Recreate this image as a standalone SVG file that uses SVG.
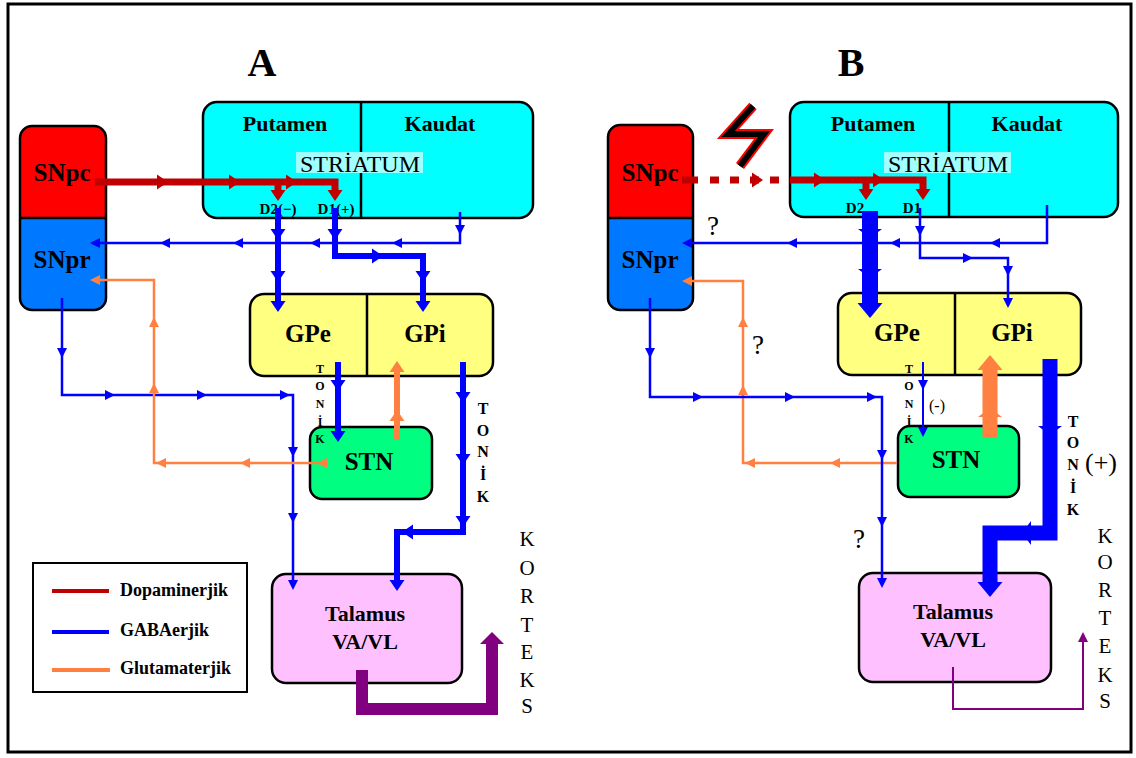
<svg xmlns="http://www.w3.org/2000/svg" width="1136" height="758" viewBox="0 0 1136 758">
<style>
text{font-family:"Liberation Serif","Times New Roman",serif;fill:#000}
.bd{font-weight:bold}
.mid{text-anchor:middle}
.nb{stroke:#000;stroke-width:2.5}
.ln{fill:none;stroke-linejoin:miter;stroke-linecap:butt}
.red{stroke:#c00000}
.blu{stroke:#0000ff}
.org{stroke:#ff8040}
.pur{stroke:#800080}
.fr{fill:#c00000}
.fb{fill:#0000ff}
.fo{fill:#ff8040}
.fp{fill:#800080}
.t1{stroke-width:2.5}
.t2{stroke-width:6}
.t3{stroke-width:15}
.k1{font-size:12px;font-weight:bold}
.k2{font-size:16px;font-weight:bold}
.k3{font-size:21px}
</style>
<defs>
<path id="at" d="M0,0 L-10,-5 L-10,5 Z"/>
<path id="am" d="M0,0 L-11,-7.5 L-11,7.5 Z"/>
<path id="ab" d="M0,0 L-15,-12.5 L-15,12.5 Z"/>
<path id="ax" d="M0,0 L-9,-12 L-9,12 Z"/>
<path id="ap" d="M0,0 L-12,-12 L-12,12 Z"/>
</defs>
<rect x="0" y="0" width="1136" height="758" fill="#fff"/>
<rect x="8" y="4" width="1123" height="748" fill="none" stroke="#000" stroke-width="3"/>
<text x="262" y="76" class="bd mid" font-size="40">A</text>
<text x="851" y="76" class="bd mid" font-size="40">B</text>

<!-- Panel A nodes -->
<g id="A-SN">
<path d="M20,218 V138 A12,12 0 0 1 32,126 H94 A12,12 0 0 1 106,138 V218 Z" fill="#ff0000"/>
<path d="M20,218 V298 A12,12 0 0 0 32,310 H94 A12,12 0 0 0 106,298 V218 Z" fill="#0078ff"/>
<rect x="20" y="126" width="86" height="184" rx="12" fill="none" class="nb"/>
<line x1="20" y1="218" x2="106" y2="218" class="nb"/>
<text x="62" y="181" class="bd mid" font-size="25">SNpc</text>
<text x="62" y="268" class="bd mid" font-size="25">SNpr</text>
</g>
<g id="A-Striatum">
<rect x="203" y="102" width="330" height="116" rx="14" fill="#00ffff" class="nb"/>
<line x1="361" y1="102" x2="361" y2="218" class="nb"/>
<text x="285" y="131" class="bd mid" font-size="22">Putamen</text>
<text x="440" y="131" class="bd mid" font-size="22">Kaudat</text>
<rect x="296" y="152" width="127" height="21" fill="#a0ffff"/>
<text x="360" y="172" class="mid" font-size="24">STRİATUM</text>
<text x="278" y="214" class="bd mid" font-size="15">D2(−)</text>
<text x="336" y="214" class="bd mid" font-size="15">D1(+)</text>
</g>
<g id="A-GP">
<rect x="250" y="294" width="243" height="82" rx="14" fill="#ffff80" class="nb"/>
<line x1="367" y1="294" x2="367" y2="376" class="nb"/>
<text x="308" y="342" class="bd mid" font-size="25">GPe</text>
<text x="425" y="342" class="bd mid" font-size="25">GPi</text>
</g>
<g id="A-STN">
<rect x="310" y="427" width="122" height="72" rx="12" fill="#00ff80" class="nb"/>
<text x="369" y="470" class="bd mid" font-size="25">STN</text>
</g>
<g id="A-Talamus">
<rect x="272" y="574" width="190" height="109" rx="14" fill="#ffc0ff" class="nb"/>
<text x="365" y="621" class="bd mid" font-size="22">Talamus</text>
<text x="365" y="649" class="bd mid" font-size="22">VA/VL</text>
</g>

<!-- Panel B nodes -->
<g id="B-SN">
<path d="M608,218 V137 A12,12 0 0 1 620,125 H681 A12,12 0 0 1 693,137 V218 Z" fill="#ff0000"/>
<path d="M608,218 V298 A12,12 0 0 0 620,310 H681 A12,12 0 0 0 693,298 V218 Z" fill="#0078ff"/>
<rect x="608" y="125" width="85" height="185" rx="12" fill="none" class="nb"/>
<line x1="608" y1="218" x2="693" y2="218" class="nb"/>
<text x="650" y="181" class="bd mid" font-size="25">SNpc</text>
<text x="650" y="268" class="bd mid" font-size="25">SNpr</text>
</g>
<g id="B-Striatum">
<rect x="790" y="102" width="328" height="115" rx="14" fill="#00ffff" class="nb"/>
<line x1="949" y1="102" x2="949" y2="217" class="nb"/>
<text x="873" y="131" class="bd mid" font-size="22">Putamen</text>
<text x="1027" y="131" class="bd mid" font-size="22">Kaudat</text>
<rect x="884" y="152" width="127" height="21" fill="#a0ffff"/>
<text x="948" y="172" class="mid" font-size="24">STRİATUM</text>
<text x="855" y="213" class="bd mid" font-size="15">D2</text>
<text x="912" y="213" class="bd mid" font-size="15">D1</text>
</g>
<g id="B-GP">
<rect x="838" y="293" width="243" height="82" rx="14" fill="#ffff80" class="nb"/>
<line x1="955" y1="293" x2="955" y2="375" class="nb"/>
<text x="897" y="341" class="bd mid" font-size="25">GPe</text>
<text x="1012" y="341" class="bd mid" font-size="25">GPi</text>
</g>
<g id="B-STN">
<rect x="898" y="426" width="121" height="71" rx="12" fill="#00ff80" class="nb"/>
<text x="956" y="468" class="bd mid" font-size="25">STN</text>
</g>
<g id="B-Talamus">
<rect x="859" y="573" width="192" height="109" rx="14" fill="#ffc0ff" class="nb"/>
<text x="953" y="619" class="bd mid" font-size="22">Talamus</text>
<text x="953" y="647" class="bd mid" font-size="22">VA/VL</text>
</g>

<!-- Connectors -->
<g id="connectors">
<!-- A red dopaminergic -->
<path d="M95,182 H335 V192 M278,182 V192" class="ln red" stroke-width="7"/>
<use href="#am" class="fr" transform="translate(168,182)"/>
<use href="#am" class="fr" transform="translate(240,182)"/>
<use href="#am" class="fr" transform="translate(297,182)"/>
<use href="#am" class="fr" transform="translate(278,201) rotate(90)"/>
<use href="#am" class="fr" transform="translate(335,201) rotate(90)"/>
<!-- A thick blue from D2/D1 -->
<path d="M278,208 V302 M335,208 V256 H423 V302" class="ln blu t2"/>
<use href="#am" class="fb" transform="translate(278,240) rotate(90)"/>
<use href="#am" class="fb" transform="translate(278,282) rotate(90)"/>
<use href="#am" class="fb" transform="translate(278,312) rotate(90)"/>
<use href="#am" class="fb" transform="translate(335,240) rotate(90)"/>
<use href="#am" class="fb" transform="translate(383,256)"/>
<use href="#am" class="fb" transform="translate(423,282) rotate(90)"/>
<use href="#am" class="fb" transform="translate(423,312) rotate(90)"/>
<!-- A thin blue Kaudat -> SNpr -->
<path d="M460,212 V243 H92" class="ln blu t1"/>
<use href="#at" class="fb" transform="translate(460,235) rotate(90)"/>
<use href="#at" class="fb" transform="translate(392,243) rotate(180)"/>
<use href="#at" class="fb" transform="translate(310,243) rotate(180)"/>
<use href="#at" class="fb" transform="translate(233,243) rotate(180)"/>
<use href="#at" class="fb" transform="translate(160,243) rotate(180)"/>
<use href="#at" class="fb" transform="translate(90,243) rotate(180)"/>
<!-- A thin blue SNpr -> Talamus -->
<path d="M62,298 V395 H293 V582" class="ln blu t1"/>
<use href="#at" class="fb" transform="translate(62,358) rotate(90)"/>
<use href="#at" class="fb" transform="translate(115,395)"/>
<use href="#at" class="fb" transform="translate(207,395)"/>
<use href="#at" class="fb" transform="translate(290,395)"/>
<use href="#at" class="fb" transform="translate(293,457) rotate(90)"/>
<use href="#at" class="fb" transform="translate(293,523) rotate(90)"/>
<use href="#at" class="fb" transform="translate(293,590) rotate(90)"/>
<!-- A thin orange STN -> SNpr -->
<path d="M326,463 H154 V280 H95" class="ln org t1"/>
<use href="#at" class="fo" transform="translate(317,463) rotate(180)"/>
<use href="#at" class="fo" transform="translate(240,463) rotate(180)"/>
<use href="#at" class="fo" transform="translate(156,463) rotate(180)"/>
<use href="#at" class="fo" transform="translate(154,383) rotate(-90)"/>
<use href="#at" class="fo" transform="translate(154,317) rotate(-90)"/>
<use href="#at" class="fo" transform="translate(90,280) rotate(180)"/>
<!-- A GPe -> STN -->
<path d="M338,362 V432" class="ln blu t2"/>
<use href="#am" class="fb" transform="translate(338,391) rotate(90)"/>
<use href="#am" class="fb" transform="translate(338,442) rotate(90)"/>
<!-- A STN -> GPi -->
<path d="M397,440 V370" class="ln org t2"/>
<use href="#am" class="fo" transform="translate(397,410) rotate(-90)"/>
<use href="#am" class="fo" transform="translate(397,361) rotate(-90)"/>
<!-- A GPi -> Talamus -->
<path d="M463,362 V532 H397 V581" class="ln blu t2"/>
<use href="#am" class="fb" transform="translate(463,403) rotate(90)"/>
<use href="#am" class="fb" transform="translate(463,465) rotate(90)"/>
<use href="#am" class="fb" transform="translate(463,527) rotate(90)"/>
<use href="#am" class="fb" transform="translate(402,532) rotate(180)"/>
<use href="#am" class="fb" transform="translate(397,591) rotate(90)"/>
<!-- A Talamus -> Korteks -->
<path d="M362,670 V709 H492 V643" class="ln pur" stroke-width="12"/>
<use href="#ap" class="fp" transform="translate(492,632) rotate(-90)"/>

<!-- B red dopaminergic (interrupted) -->
<path d="M682,180 H698" class="ln red" stroke-width="7"/>
<path d="M710,180 H790" class="ln red" stroke-width="7" stroke-dasharray="9 11"/>
<path d="M790,180 H923 V192 M866,180 V192" class="ln red" stroke-width="7"/>
<use href="#am" class="fr" transform="translate(763,180)"/>
<use href="#am" class="fr" transform="translate(825,180)"/>
<use href="#am" class="fr" transform="translate(884,180)"/>
<use href="#am" class="fr" transform="translate(866,200) rotate(90)"/>
<use href="#am" class="fr" transform="translate(923,200) rotate(90)"/>
<!-- lightning -->
<polyline points="753,106 728,134 764,134 740,166" fill="none" stroke="#ff0000" stroke-width="10" stroke-linejoin="miter"/>
<polyline points="753,106 728,134 764,134 740,166" fill="none" stroke="#000" stroke-width="6" stroke-linejoin="miter"/>
<!-- B thick D2 -> GPe -->
<path d="M870,211 V304" class="ln blu" stroke-width="16"/>
<use href="#ax" class="fb" transform="translate(870,238) rotate(90)"/>
<use href="#ax" class="fb" transform="translate(870,278) rotate(90)"/>
<use href="#ab" class="fb" transform="translate(870,318) rotate(90)"/>
<!-- B thin D1 -> GPi -->
<path d="M920,208 V258 H1008 V305" class="ln blu t1"/>
<use href="#at" class="fb" transform="translate(920,236) rotate(90)"/>
<use href="#at" class="fb" transform="translate(973,258)"/>
<use href="#at" class="fb" transform="translate(1008,276) rotate(90)"/>
<use href="#at" class="fb" transform="translate(1008,308) rotate(90)"/>
<!-- B thin Kaudat -> SNpr -->
<path d="M1047,205 V243 H686" class="ln blu t1"/>
<use href="#at" class="fb" transform="translate(990,243) rotate(180)"/>
<use href="#at" class="fb" transform="translate(890,243) rotate(180)"/>
<use href="#at" class="fb" transform="translate(787,243) rotate(180)"/>
<use href="#at" class="fb" transform="translate(682,243) rotate(180)"/>
<!-- B thin orange STN -> SNpr -->
<path d="M897,463 H743 V281 H686" class="ln org t1"/>
<use href="#at" class="fo" transform="translate(830,463) rotate(180)"/>
<use href="#at" class="fo" transform="translate(745,463) rotate(180)"/>
<use href="#at" class="fo" transform="translate(743,385) rotate(-90)"/>
<use href="#at" class="fo" transform="translate(743,317) rotate(-90)"/>
<use href="#at" class="fo" transform="translate(682,281) rotate(180)"/>
<!-- B thin SNpr -> Talamus -->
<path d="M650,298 V397 H882 V582" class="ln blu t1"/>
<use href="#at" class="fb" transform="translate(650,358) rotate(90)"/>
<use href="#at" class="fb" transform="translate(703,397)"/>
<use href="#at" class="fb" transform="translate(795,397)"/>
<use href="#at" class="fb" transform="translate(877,397)"/>
<use href="#at" class="fb" transform="translate(882,460) rotate(90)"/>
<use href="#at" class="fb" transform="translate(882,527) rotate(90)"/>
<use href="#at" class="fb" transform="translate(882,588) rotate(90)"/>
<!-- B thin GPe -> STN -->
<path d="M923,362 V430" class="ln blu" stroke-width="2"/>
<use href="#at" class="fb" transform="translate(923,390) rotate(90)"/>
<use href="#at" class="fb" transform="translate(923,437) rotate(90)"/>
<!-- B thick STN -> GPi -->
<path d="M990,438 V369" class="ln org t3"/>
<use href="#ax" class="fo" transform="translate(990,408) rotate(-90)"/>
<use href="#ab" class="fo" transform="translate(990,355) rotate(-90)"/>
<!-- B thick GPi -> Talamus -->
<path d="M1050,359 V533 H990 V583" class="ln blu t3"/>
<use href="#ax" class="fb" transform="translate(1050,435) rotate(90)"/>
<use href="#ax" class="fb" transform="translate(1022,533) rotate(180)"/>
<use href="#ab" class="fb" transform="translate(990,597) rotate(90)"/>
<!-- B Talamus -> Korteks -->
<path d="M953,667 V709 H1083 V640" class="ln pur" stroke-width="2"/>
<use href="#at" class="fp" transform="translate(1083,632) rotate(-90)"/>
</g>

<!-- vertical labels -->
<g id="labels">
<text class="k1 mid"><tspan x="320" y="373">T</tspan><tspan x="320" y="390">O</tspan><tspan x="320" y="408">N</tspan><tspan x="320" y="426">İ</tspan><tspan x="320" y="443">K</tspan></text>
<text class="k2 mid"><tspan x="483" y="414">T</tspan><tspan x="483" y="436">O</tspan><tspan x="483" y="457">N</tspan><tspan x="483" y="480">İ</tspan><tspan x="483" y="502">K</tspan></text>
<text class="k3 mid"><tspan x="527" y="546">K</tspan><tspan x="527" y="575">O</tspan><tspan x="527" y="603">R</tspan><tspan x="527" y="632">T</tspan><tspan x="527" y="659">E</tspan><tspan x="527" y="687">K</tspan><tspan x="527" y="713">S</tspan></text>
<text class="k1 mid"><tspan x="909" y="373">T</tspan><tspan x="909" y="390">O</tspan><tspan x="909" y="408">N</tspan><tspan x="909" y="426">İ</tspan><tspan x="909" y="443">K</tspan></text>
<text class="k2 mid"><tspan x="1073" y="427">T</tspan><tspan x="1073" y="448">O</tspan><tspan x="1073" y="470">N</tspan><tspan x="1073" y="493">İ</tspan><tspan x="1073" y="515">K</tspan></text>
<text class="k3 mid"><tspan x="1105" y="543">K</tspan><tspan x="1105" y="569">O</tspan><tspan x="1105" y="597">R</tspan><tspan x="1105" y="625">T</tspan><tspan x="1105" y="653">E</tspan><tspan x="1105" y="682">K</tspan><tspan x="1105" y="708">S</tspan></text>
<text x="713" y="235" class="mid" font-size="27">?</text>
<text x="758" y="354" class="mid" font-size="27">?</text>
<text x="859" y="548" class="mid" font-size="27">?</text>
<text x="937" y="411" class="mid" font-size="16">(-)</text>
<text x="1101" y="471" class="mid" font-size="26">(+)</text>
</g>

<!-- Legend -->
<g id="legend">
<rect x="33" y="563" width="214" height="129" fill="#fff" stroke="#000" stroke-width="2"/>
<line x1="52" y1="591" x2="109" y2="591" stroke="#c00000" stroke-width="4"/>
<line x1="52" y1="632" x2="109" y2="632" stroke="#0000ff" stroke-width="4"/>
<line x1="52" y1="670" x2="110" y2="670" stroke="#ff8040" stroke-width="4"/>
<text x="120" y="596" class="bd" font-size="18">Dopaminerjik</text>
<text x="120" y="636" class="bd" font-size="18">GABAerjik</text>
<text x="120" y="674" class="bd" font-size="18">Glutamaterjik</text>
</g>
</svg>
